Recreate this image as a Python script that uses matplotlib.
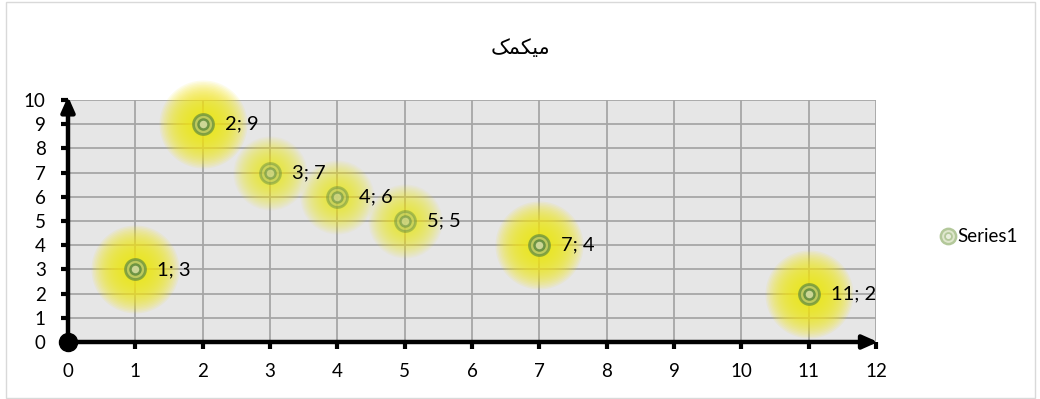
import matplotlib
matplotlib.use("Agg")
import matplotlib.pyplot as plt
from matplotlib.patches import Rectangle
from matplotlib.lines import Line2D
from matplotlib.legend_handler import HandlerTuple

# ---- data ----
x_vals = [1, 2, 3, 4, 5, 7, 11]
y_vals = [3, 9, 7, 6, 5, 4, 2]
strong = [True, True, False, False, False, True, True]
labels = ["1; 3", "2; 9", "3; 7", "4; 6", "5; 5", "7; 4", "11; 2"]
x_ticks = list(range(0, 13))
y_ticks = list(range(0, 11))
series_name = "Series1"
# title "میکمک" in shaped (presentation) forms, visual order
title_text = "\uFB8F\uFEE4\uFB91\uFBFF\uFEE3"

DPI = 100
W, H = 1040, 399
fig = plt.figure(figsize=(W / DPI, H / DPI), dpi=DPI)
fig.patch.set_facecolor("white")

ax = fig.add_axes([68 / W, 1 - 342 / H, (876 - 68) / W, (342 - 100) / H])
ax.set_facecolor("#e6e6e6")
ax.set_xlim(0, 12)
ax.set_ylim(0, 10)
ax.set_xticks(x_ticks)
ax.set_yticks(y_ticks)
ax.grid(True, color="#a6a6a6", linewidth=1.3)
ax.set_axisbelow(True)
for s in ["top", "right", "left", "bottom"]:
    ax.spines[s].set_visible(False)

FS = 13.5
ax.tick_params(axis="both", direction="out", length=5, width=3, color="black",
               labelsize=FS, labelcolor="black")
ax.tick_params(axis="y", pad=11)
ax.tick_params(axis="x", pad=10)
for lab in ax.get_xticklabels() + ax.get_yticklabels():
    lab.set_fontfamily("Lato")

# axes lines with arrows
ax.annotate("", xy=(12.03, 0), xytext=(0, 0), xycoords="data",
            arrowprops=dict(arrowstyle="-|>,head_length=0.9,head_width=0.4",
                            lw=3.2, color="black", shrinkA=0, shrinkB=0),
            annotation_clip=False, zorder=10)
ax.annotate("", xy=(0, 10.15), xytext=(0, 0), xycoords="data",
            arrowprops=dict(arrowstyle="-|>,head_length=0.9,head_width=0.4",
                            lw=3.2, color="black", shrinkA=0, shrinkB=0),
            annotation_clip=False, zorder=10)
ax.plot([0], [0], "o", ms=13, color="black", clip_on=False, zorder=11)

def px_to_s(diam_px):
    d = diam_px * 72 / DPI
    return d * d

# glows
N = 30
for xi, yi, st in zip(x_vals, y_vals, strong):
    R = 44 if st else 37
    a = 0.095 if st else 0.06
    for k in range(N):
        r = R * (1 - k / N)
        ax.scatter([xi], [yi], s=px_to_s(2 * r), color="#f3e51a", alpha=a,
                   linewidths=0, zorder=3, clip_on=False)

# markers (concentric rings)
for xi, yi, st in zip(x_vals, y_vals, strong):
    al = 0.85 if st else 0.55
    ax.scatter([xi], [yi], s=px_to_s(20), facecolor="#a9be78", edgecolor="#5f8a3a",
               linewidths=2.0, alpha=al * 0.8, zorder=5)
    ax.scatter([xi], [yi], s=px_to_s(10), facecolor="#cfd9a0", edgecolor="#5f8a3a",
               linewidths=1.8, alpha=al, zorder=6)

# data labels
for xi, yi, lab in zip(x_vals, y_vals, labels):
    ax.annotate(lab, xy=(xi, yi), xytext=(22, 0), textcoords="offset pixels",
                ha="left", va="center", fontsize=14.5, family="Lato", color="black",
                zorder=8)

# title
fig.text(520 / W, 1 - 48 / H, title_text, ha="center", va="center",
         fontsize=15, family=["DejaVu Sans"], color="black")

# legend
h1 = Line2D([], [], linestyle="none", marker="o", ms=11, markerfacecolor="#dfe7cd",
            markeredgecolor="#b3c89a", markeredgewidth=1.8)
h2 = Line2D([], [], linestyle="none", marker="o", ms=5, markerfacecolor="#e8eedc",
            markeredgecolor="#b3c89a", markeredgewidth=1.3)
leg = fig.legend([(h1, h2)], [series_name], handler_map={tuple: HandlerTuple(ndivide=1)},
                 loc="center left", bbox_to_anchor=(924 / W, 1 - 237 / H),
                 frameon=False, handlelength=0.8, handletextpad=0.1,
                 prop={"family": "Lato", "size": FS})

# outer border
fig.add_artist(Rectangle((5.5 / W, 1.5 / H), (1034.5 - 5.5) / W, (397.5 - 1.5) / H,
                         transform=fig.transFigure, fill=False,
                         edgecolor="#d9d9d9", linewidth=1))

fig.savefig("out.png", dpi=DPI)
